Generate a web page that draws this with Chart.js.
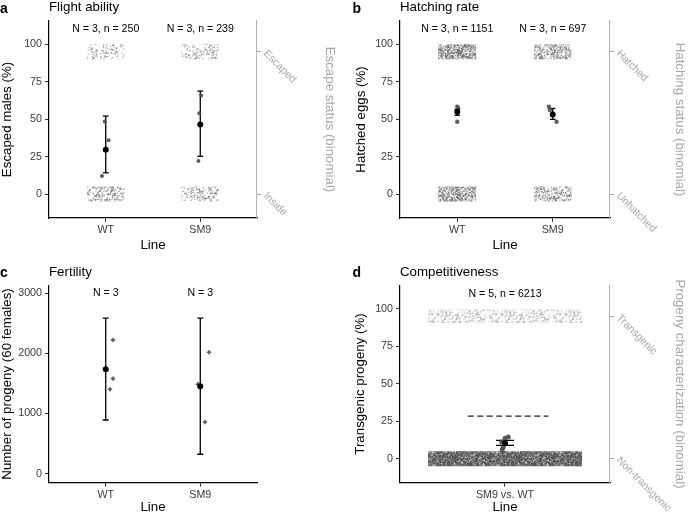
<!DOCTYPE html>
<html><head><meta charset="utf-8">
<script src="https://cdn.jsdelivr.net/npm/chart.js@4.4.1/dist/chart.umd.min.js"></script>
<style>
html,body{margin:0;padding:0;background:#fff}
body{width:690px;height:513px;position:relative;overflow:hidden}
canvas{position:absolute}
</style></head><body>
<canvas id="ca" width="345" height="256" style="left:0;top:0"></canvas>
<canvas id="cb" width="345" height="256" style="left:345px;top:0"></canvas>
<canvas id="cc" width="345" height="257" style="left:0;top:256px"></canvas>
<canvas id="cd" width="345" height="257" style="left:345px;top:256px"></canvas>
<script>
// ---------- data ----------
const lineCategories = ['WT', 'SM9'];
const linePositions = [1, 2];
const percentTicks = [0, 25, 50, 75, 100];
const progenyTicks = [0, 1000, 2000, 3000];
const statusTickValues = [0, 95];
const bandUpper = [90, 100];      // jittered "1" observations
const bandLower = [-5, 5];        // jittered "0" observations

// a  Flight ability
const flightMean = [29.6, 46.5];
const flightLow = [14.2, 25.2];
const flightHigh = [52.1, 68.8];
const flightRepX = [0.99, 1.03, 0.96, 2.01, 1.99, 1.98];
const flightRepY = [48.5, 35.9, 12.0, 65.9, 53.9, 22.0];
const flightLabels = ['N = 3, n = 250', 'N = 3, n = 239'];
const flightStatus = ['Inside', 'Escaped'];

// b  Hatching rate
const hatchMean = [55.0, 53.2];
const hatchLow = [52.6, 49.9];
const hatchHigh = [56.6, 57.2];
const hatchRepX = [1.0, 1.01, 1.0, 1.96, 1.97, 2.04];
const hatchRepY = [58.3, 57.2, 48.3, 58.3, 56.1, 48.3];
const hatchLabels = ['N = 3, n = 1151', 'N = 3, n = 697'];
const hatchStatus = ['Unhatched', 'Hatched'];

// c  Fertility
const fertMean = [1737, 1454];
const fertLow = [893, 323];
const fertHigh = [2586, 2586];
const fertRepX = [1.077, 1.077, 1.045, 1.974, 2.093, 2.05];
const fertRepY = [2225, 1581, 1404, 1487, 2020, 860];
const fertLabels = ['N = 3', 'N = 3'];

// d  Competitiveness
const compCategories = ['SM9 vs. WT'];
const compPositions = [1];
const compMean = [10.3];
const compLow = [8.9];
const compHigh = [12.2];
const compRepX = [1.019, 1.0, 0.981, 0.99, 0.984];
const compRepY = [14.4, 13.7, 11.1, 7.7, 6.0];
const compExpected = 28.4;
const compExpectedX = [0.787, 1.248];
const compLabels = ['N = 5, n = 6213'];
const compStatus = ['Non-transgenic', 'Transgenic'];

// ---------- drawing ----------
const FONT = '"Liberation Sans", Arial, Helvetica, sans-serif';
function frac(v) { return v - Math.floor(v); }
function speckle(ctx, density, rgb, alpha) {
  const T = 64, tile = document.createElement('canvas');
  tile.width = tile.height = T;
  const g = tile.getContext('2d');
  g.fillStyle = 'rgba(' + rgb + ',' + alpha + ')';
  const n = Math.round(density * T * T);
  for (let i = 0; i < n; i++) {
    const u = frac(Math.sin(i * 12.9898 + 0.37) * 43758.5453) * T;
    const v = frac(Math.sin(i * 78.233 + 1.91) * 24634.6345) * T;
    g.beginPath(); g.arc(u, v, 0.75, 0, 6.2832); g.fill();
  }
  return ctx.createPattern(tile, 'repeat');
}

function makePanel(id, p) {
  const canvas = document.getElementById(id);
  const ctx = canvas.getContext('2d');
  const W = canvas.width, H = canvas.height;
  const ds = [];
  ds.push({ data: p.pos.map((x, i) => ({ x, y: p.mean[i] })), showLine: false,
    pointRadius: 3, pointBackgroundColor: '#000', pointBorderColor: '#000', pointBorderWidth: 0 });
  const cross = p.repStyle === 'cross';
  ds.push({ data: p.repX.map((x, i) => ({ x, y: p.repY[i] })), showLine: false,
    pointStyle: p.repStyle || 'circle', pointRadius: p.repR,
    pointBackgroundColor: 'rgba(75,75,75,0.9)', pointBorderColor: 'rgba(75,75,75,0.9)',
    pointBorderWidth: cross ? 1.6 : 0 });
  const eb = [];
  p.pos.forEach((x, i) => { if (i) eb.push({ x: x - 0.5, y: null }); eb.push({ x, y: p.low[i] }); eb.push({ x, y: p.high[i] }); });
  ds.push({ data: eb, showLine: true, spanGaps: false, borderColor: '#000', borderWidth: 1.3,
    pointStyle: 'line', pointRadius: p.capR, pointBorderColor: '#000', pointBorderWidth: 1.3, pointBackgroundColor: '#000' });
  if (p.refY !== undefined) {
    ds.push({ data: p.refX.map(x => ({ x, y: p.refY })), showLine: true, borderColor: '#222',
      borderWidth: 1.3, borderDash: [6, 3.5], pointRadius: 0 });
  }
  (p.bands || []).forEach(b => {
    ds.push({ data: [{ x: b.x - b.w, y: b.range[1] }, { x: b.x + b.w, y: b.range[1] }], showLine: true,
      borderWidth: 0, borderColor: 'rgba(0,0,0,0)', pointRadius: 0,
      fill: { value: b.range[0] }, backgroundColor: speckle(ctx, b.d, b.rgb || '77,77,77', b.a || 0.35) });
  });

  const tickFont = { family: FONT, size: 10.7 };
  const titleFont = { family: FONT, size: 13.3, lineHeight: 1 };
  const tickGrid = { display: true, drawOnChartArea: false, drawTicks: true, tickLength: 4, color: '#333', lineWidth: 1 };
  const scales = {
    x: { type: 'linear', min: p.xMin, max: p.xMax,
      afterBuildTicks: s => { s.ticks = p.pos.map(v => ({ value: v })); },
      afterFit: s => { s.height = H - p.area.bottom; },
      ticks: { callback: (v, i) => p.cats[i], color: '#3a3a3a', font: tickFont, padding: 1.5, autoSkip: false, maxRotation: 0, minRotation: 0 },
      grid: tickGrid, border: { display: true, color: '#000', width: 1.2 },
      title: { display: true, text: 'Line', color: '#000', font: titleFont, padding: { top: 0, bottom: p.xTitlePad } } },
    y: { type: 'linear', position: 'left', min: p.yMin, max: p.yMax,
      afterBuildTicks: s => { s.ticks = p.yTicks.map(v => ({ value: v })); },
      afterFit: s => { s.width = p.area.left; },
      ticks: { callback: v => String(v), color: '#3a3a3a', font: tickFont, padding: 3 },
      grid: tickGrid, border: { display: true, color: '#000', width: 1.2 },
      title: { display: true, text: p.yTitle, color: '#000', font: titleFont, padding: { top: p.yTitlePad, bottom: 0 } } }
  };
  if (p.status) {
    scales.y2 = { type: 'linear', position: 'right', display: true, min: p.yMin, max: p.yMax,
      afterBuildTicks: s => { s.ticks = statusTickValues.map(v => ({ value: v })); },
      afterFit: s => { s.width = W - p.area.right; },
      ticks: { callback: (v, i) => p.status[i], color: '#a8a8a8', font: tickFont, padding: 4, minRotation: -45, maxRotation: 90 },
      grid: { display: true, drawOnChartArea: false, drawTicks: true, tickLength: 4, color: '#aaaaaa', lineWidth: 1 },
      border: { display: true, color: '#b3b3b3', width: 1.1 },
      title: { display: true, text: p.statusTitle, color: '#a8a8a8', font: titleFont, padding: { top: p.y2TitlePad, bottom: 0 } } };
  }
  const textPlugin = {
    id: 'txt' + id,
    afterDraw(chart) {
      const c = chart.ctx, xs = chart.scales.x, ys = chart.scales.y;
      c.save();
      c.fillStyle = '#000';
      c.font = '10.6px ' + FONT; c.textAlign = 'center'; c.textBaseline = 'middle';
      p.labels.forEach((t, i) => c.fillText(t, xs.getPixelForValue(p.pos[i]), ys.getPixelForValue(p.labelY)));
      c.textAlign = 'left'; c.textBaseline = 'alphabetic';
      c.font = 'bold 14px ' + FONT; c.fillText(p.letter, p.letterX, p.titleBase + 1.5);
      c.font = '13.3px ' + FONT; c.fillText(p.title, chart.chartArea.left, p.titleBase);
      c.restore();
    }
  };
  new Chart(ctx, {
    type: 'scatter',
    data: { datasets: ds },
    options: {
      responsive: false, animation: false, events: [],
      layout: { padding: { left: 0, top: p.area.top, right: p.status ? 0 : W - p.area.right, bottom: 0 } },
      plugins: { legend: { display: false }, tooltip: { enabled: false }, title: { display: false } },
      scales
    },
    plugins: [textPlugin]
  });
}

const bandsFor = (pos, w, dens, a, rgb) => {
  const out = [];
  pos.forEach((x, i) => {
    out.push({ x, w, range: bandUpper, d: dens[i][0], a, rgb });
    out.push({ x, w, range: bandLower, d: dens[i][1], a, rgb });
  });
  return out;
};

makePanel('ca', {
  area: { left: 49, right: 257, top: 21, bottom: 218 },
  xMin: 0.4, xMax: 2.6, yMin: -16, yMax: 115.6, yTicks: percentTicks,
  pos: linePositions, cats: lineCategories,
  mean: flightMean, low: flightLow, high: flightHigh, repX: flightRepX, repY: flightRepY, repR: 2, capR: 2.9,
  labels: flightLabels, labelY: 110, status: flightStatus, statusTitle: 'Escape status (binomial)',
  bands: bandsFor(linePositions, 0.2, [[0.15, 0.32], [0.21, 0.24]], 0.45),
  yTitle: 'Escaped males (%)', yTitlePad: 0.35, y2TitlePad: 8.35, xTitlePad: 4.35,
  letter: 'a', letterX: 0, title: 'Flight ability', titleBase: 11
});
makePanel('cb', {
  area: { left: 55, right: 265, top: 21, bottom: 218 },
  xMin: 0.4, xMax: 2.6, yMin: -16, yMax: 115.6, yTicks: percentTicks,
  pos: linePositions, cats: lineCategories,
  mean: hatchMean, low: hatchLow, high: hatchHigh, repX: hatchRepX, repY: hatchRepY, repR: 2.2, capR: 2.7,
  labels: hatchLabels, labelY: 110, status: hatchStatus, statusTitle: 'Hatching status (binomial)',
  bands: bandsFor(linePositions, 0.2, [[1.08, 0.89], [0.63, 0.56]], 0.37),
  yTitle: 'Hatched eggs (%)', yTitlePad: 9.35, y2TitlePad: 3.35, xTitlePad: 4.35,
  letter: 'b', letterX: 7.5, title: 'Hatching rate', titleBase: 11
});
makePanel('cc', {
  area: { left: 49, right: 257, top: 29.3, bottom: 226.7 },
  xMin: 0.4, xMax: 2.6, yMin: -150, yMax: 3133, yTicks: progenyTicks,
  pos: linePositions, cats: lineCategories,
  mean: fertMean, low: fertLow, high: fertHigh, repX: fertRepX, repY: fertRepY, repR: 2.2, repStyle: 'cross', capR: 3,
  labels: fertLabels, labelY: 3000,
  yTitle: 'Number of progeny (60 females)', yTitlePad: 0.65, xTitlePad: -1.3,
  letter: 'c', letterX: 0, title: 'Fertility', titleBase: 19.5
});
makePanel('cd', {
  area: { left: 55, right: 265, top: 29.3, bottom: 226.7 },
  xMin: 0.4, xMax: 1.6, yMin: -16, yMax: 115.6, yTicks: percentTicks,
  pos: compPositions, cats: compCategories,
  mean: compMean, low: compLow, high: compHigh, repX: compRepX, repY: compRepY, repR: 2.5, capR: 9,
  refY: compExpected, refX: compExpectedX,
  labels: compLabels, labelY: 110, status: compStatus, statusTitle: 'Progeny characterization (binomial)',
  bands: [
    { x: 1, w: 0.44, range: [90.5, 99.5], d: 0.31, a: 0.3, rgb: '110,110,110' },
    { x: 1, w: 0.44, range: bandLower, d: 2.41, a: 0.37, rgb: '70,70,70' }
  ],
  yTitle: 'Transgenic progeny (%)', yTitlePad: 8.35, y2TitlePad: 3.35, xTitlePad: -1.3,
  letter: 'd', letterX: 7.5, title: 'Competitiveness', titleBase: 19.5
});
</script>
</body></html>
